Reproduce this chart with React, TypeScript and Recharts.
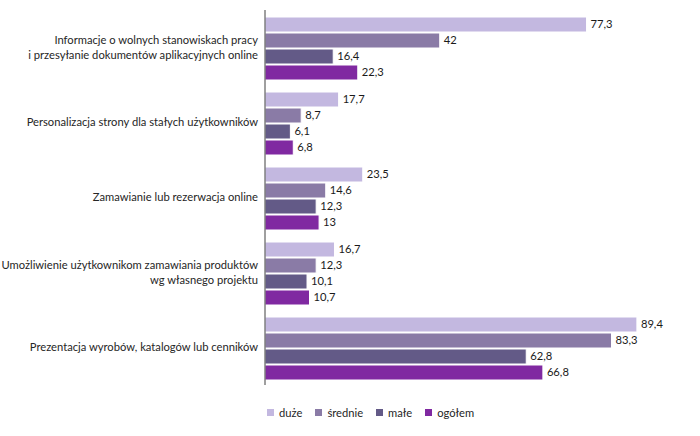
import React from "react";
import { BarChart, Bar, XAxis, YAxis, LabelList, Legend } from "recharts";

const categories: string[][] = [
  ["Informacje o wolnych stanowiskach pracy", "i przesyłanie dokumentów aplikacyjnych online"],
  ["Personalizacja strony dla stałych użytkowników"],
  ["Zamawianie lub rezerwacja online"],
  ["Umożliwienie użytkownikom zamawiania produktów", "wg własnego projektu"],
  ["Prezentacja wyrobów, katalogów lub cenników"],
];
const duze = [77.3, 17.7, 23.5, 16.7, 89.4];
const srednie = [42, 8.7, 14.6, 12.3, 83.3];
const male = [16.4, 6.1, 12.3, 10.1, 62.8];
const ogolem = [22.3, 6.8, 13, 10.7, 66.8];

const seriesNames = ["duże", "średnie", "małe", "ogółem"];
const seriesKeys = ["duze", "srednie", "male", "ogolem"];
const colors = ["#C3B8E0", "#8A7BA6", "#635A87", "#8029A1"];

const data = categories.map((c, i) => ({
  name: c.join("\n"),
  duze: duze[i],
  srednie: srednie[i],
  male: male[i],
  ogolem: ogolem[i],
}));

const FONT = "Lato, 'Open Sans', sans-serif";

const fmt = (v: any) => String(v).replace(".", ",");

const CatTick = (props: any) => {
  const { x, y, payload } = props;
  const lines = String(payload.value).split("\n");
  const lh = 15.5;
  const start = -((lines.length - 1) * lh) / 2;
  const tx = x + 1;
  return (
    <text x={tx} y={y} textAnchor="end" fontSize={11.2} fill="#262626" fontFamily={FONT}>
      {lines.map((l, i) => (
        <tspan key={i} x={tx} y={y + start + i * lh} dy="0.35em">
          {l}
        </tspan>
      ))}
    </text>
  );
};

const LegendContent = () => (
  <div style={{ display: "flex", justifyContent: "flex-start", fontFamily: FONT, fontSize: 11.2, color: "#262626", paddingLeft: 267 }}>
    {seriesNames.map((n, i) => (
      <div key={n} style={{ display: "flex", alignItems: "center", marginRight: 13 }}>
        <div style={{ width: 7, height: 7, background: colors[i], marginRight: 5 }} />
        <span>{n}</span>
      </div>
    ))}
  </div>
);

export default function App() {
  return (
    <div style={{ position: "absolute", left: 0, top: 0, background: "#fff" }}>
      <BarChart
        width={700}
        height={436}
        data={data}
        layout="vertical"
        margin={{ top: 10, right: 19, bottom: 35, left: 0 }}
        barCategoryGap={7}
        barGap={1}
      >
        <XAxis type="number" domain={[0, 100]} hide />
        <YAxis
          type="category"
          dataKey="name"
          width={265}
          tick={<CatTick />}
          tickLine={false}
          axisLine={{ stroke: "#404040", strokeWidth: 1 }}
          interval={0}
        />
        <Legend
          verticalAlign="bottom"
          content={<LegendContent />}
          wrapperStyle={{ top: 406, left: 0, width: 700, height: 16 }}
        />
        {seriesKeys.map((k, i) => (
          <Bar key={k} dataKey={k} name={seriesNames[i]} fill={colors[i]} stroke="#ffffff" strokeWidth={1} isAnimationActive={false}>
            <LabelList dataKey={k} position="right" offset={4} formatter={fmt} fontSize={11.2} fill="#1a1a1a" fontFamily={FONT} />
          </Bar>
        ))}
      </BarChart>
    </div>
  );
}
